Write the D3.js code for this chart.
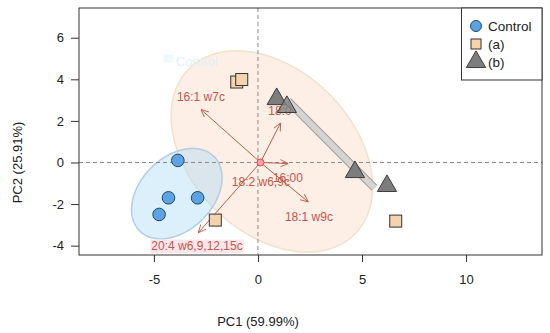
<!DOCTYPE html>
<html>
<head>
  <meta charset="utf-8">
  <title>PCA biplot</title>
  <script src="https://cdn.jsdelivr.net/npm/d3@7"></script>
  <style>
    body { margin: 0; background: #fff; }
    text { font-family: "Liberation Sans", Arial, sans-serif; }
  </style>
</head>
<body>
<div id="chart"></div>
<script>
// scores
const controlX = [-3.85, -4.3, -2.9, -4.75];
const controlY = [0.1, -1.7, -1.7, -2.5];
const aX = [-1.02, -0.78, -2.05, 6.62];
const aY = [3.87, 3.99, -2.77, -2.82];
const bX = [0.9, 1.39, 4.66, 6.2];
const bY = [3.05, 2.67, -0.46, -1.13];

// loadings (arrow tips and label spots)
const loadNames = ["16:1 w7c", "18:0", "16:00", "18:1 w9c", "20:4 w6,9,12,15c", "18:2 w6,9c"];
const loadX = [-2.74, 1.09, 1.46, 2.42, -2.87, null];
const loadY = [2.55, 1.91, -0.05, -1.9, -3.38, null];
const labX = [-2.74, 1.06, 1.44, 2.45, -2.93, 0.14];
const labY = [3.13, 2.5, -0.77, -2.6, -4.04, -0.96];
const origin = [0.12, 0];

// confidence ellipses: cx, cy, semi-major, semi-minor, angle (deg)
const ellControl = [-3.9, -1.5, 2.53, 1.75, 45];
const ellA = [0.67, 0.53, 5.63, 3.9, -45];

// the grey band
const bandX = [1.45, 5.6];
const bandY = [2.95, -1.22];

const xTicks = [-5, 0, 5, 10];
const yTicks = [-4, -2, 0, 2, 4, 6];

const W = 550, H = 333;
const L = 79, R = 542, T = 8, B = 255;

const x = d3.scaleLinear().domain([-8.6, 13.65]).range([L, R]);
const y = d3.scaleLinear().domain([-4.45, 7.43]).range([B, T]);

const svg = d3.select("#chart").append("svg").attr("width", W).attr("height", H);

const defs = svg.append("defs");
defs.append("clipPath").attr("id", "clip").append("rect")
  .attr("x", L).attr("y", T).attr("width", R - L).attr("height", B - T);
defs.append("marker").attr("id", "head")
  .attr("viewBox", "0 0 10 10").attr("refX", 10).attr("refY", 5)
  .attr("markerWidth", 8).attr("markerHeight", 8).attr("orient", "auto")
  .attr("markerUnits", "userSpaceOnUse")
  .append("path").attr("d", "M0,0.5 L10,5 L0,9.5")
  .attr("fill", "none").attr("stroke", "#b9604c").attr("stroke-width", 1.1);

const plot = svg.append("g").attr("clip-path", "url(#clip)");

function ellipsePts(e) {
  const [cx, cy, a, b, ang] = e;
  const t = ang * Math.PI / 180;
  return d3.range(0, 361, 4).map(d => {
    const u = d * Math.PI / 180;
    const px = a * Math.cos(u), py = b * Math.sin(u);
    return [cx + px * Math.cos(t) - py * Math.sin(t), cy + px * Math.sin(t) + py * Math.cos(t)];
  });
}
const line = d3.line().x(d => x(d[0])).y(d => y(d[1]));

plot.append("path").attr("d", line(ellipsePts(ellA)))
  .attr("fill", "#fdeee6")
  .attr("stroke", "#f1e2cc").attr("stroke-width", 1.5);
plot.append("path").attr("d", line(ellipsePts(ellControl)))
  .attr("fill", "#a9dcf6").attr("fill-opacity", 0.42)
  .attr("stroke", "#b2cde4").attr("stroke-width", 1.5);

// ghost legend text
plot.append("rect").attr("x", x(-4.3) - 5).attr("y", y(4.95) - 5).attr("width", 10).attr("height", 8)
  .attr("fill", "#edf9fd");
plot.append("text").attr("x", x(-3.95)).attr("y", y(4.88) + 5)
  .attr("font-size", 13).attr("fill", "#dcf4fb").text("Control");

// zero lines
plot.append("line").attr("x1", x(0)).attr("x2", x(0)).attr("y1", T).attr("y2", B)
  .attr("stroke", "#8a8a8a").attr("stroke-dasharray", "4,3");
plot.append("line").attr("x1", L).attr("x2", R).attr("y1", y(0)).attr("y2", y(0))
  .attr("stroke", "#8a8a8a").attr("stroke-dasharray", "4,3");

// grey band
plot.append("line").attr("x1", x(bandX[0])).attr("y1", y(bandY[0]))
  .attr("x2", x(bandX[1])).attr("y2", y(bandY[1]))
  .attr("stroke", "#a29e9a").attr("stroke-width", 8);
plot.append("line").attr("x1", x(bandX[0])).attr("y1", y(bandY[0]))
  .attr("x2", x(bandX[1])).attr("y2", y(bandY[1]))
  .attr("stroke", "#d6d3d0").attr("stroke-width", 6);

// loading arrows
loadNames.forEach((n, i) => {
  if (loadX[i] === null) return;
  plot.append("line")
    .attr("x1", x(origin[0])).attr("y1", y(origin[1]))
    .attr("x2", x(loadX[i])).attr("y2", y(loadY[i]))
    .attr("stroke", "#b9604c").attr("stroke-width", 1)
    .attr("marker-end", "url(#head)");
});
plot.append("circle").attr("cx", x(origin[0])).attr("cy", y(origin[1])).attr("r", 3.5)
  .attr("fill", "#f5a5a5").attr("stroke", "#e0484a").attr("stroke-width", 1);

// loading labels
loadNames.forEach((n, i) => {
  const t = plot.append("text").attr("x", x(labX[i])).attr("y", y(labY[i]) + 4)
    .attr("text-anchor", "middle").attr("font-size", 12)
    .attr("fill", "#c4574a").text(n);
  if (i === 4) {
    const bb = t.node().getBBox();
    plot.insert("rect", () => t.node())
      .attr("x", bb.x - 1).attr("y", bb.y).attr("width", bb.width + 2).attr("height", bb.height)
      .attr("fill", "#fce6ec");
  }
});

// points
const circ = controlX.map((v, i) => [v, controlY[i]]);
const sq = aX.map((v, i) => [v, aY[i]]);
const tri = bX.map((v, i) => [v, bY[i]]);

plot.selectAll(".sq").data(sq).enter().append("rect")
  .attr("x", d => x(d[0]) - 6).attr("y", d => y(d[1]) - 6)
  .attr("width", 12).attr("height", 12)
  .attr("fill", "#f5d3ad").attr("stroke", "#333").attr("stroke-width", 1);
plot.selectAll(".ci").data(circ).enter().append("circle")
  .attr("cx", d => x(d[0])).attr("cy", d => y(d[1])).attr("r", 6.3)
  .attr("fill", "#5da2e3").attr("stroke", "#1e4a66").attr("stroke-width", 1);
const triPath = d3.symbol().type(d3.symbolTriangle).size(160);
plot.selectAll(".tr").data(tri).enter().append("path")
  .attr("d", triPath)
  .attr("transform", d => `translate(${x(d[0])},${y(d[1])})`)
  .attr("fill", "#7d7d7d").attr("stroke", "#3c3c3c").attr("stroke-width", 1)
  .attr("fill-opacity", (d, i) => i === 1 ? 0.8 : 1);

// box
svg.append("rect").attr("x", L).attr("y", T).attr("width", R - L).attr("height", B - T)
  .attr("fill", "none").attr("stroke", "#333").attr("stroke-width", 1);

// axes
const xAxis = svg.append("g").attr("transform", `translate(0,${B})`)
  .call(d3.axisBottom(x).tickValues(xTicks).tickSize(7).tickPadding(13).tickFormat(d3.format("d")));
const yAxis = svg.append("g").attr("transform", `translate(${L},0)`)
  .call(d3.axisLeft(y).tickValues(yTicks).tickSize(8).tickPadding(7).tickFormat(d3.format("d")));
[xAxis, yAxis].forEach(g => {
  g.select(".domain").remove();
  g.selectAll("line").attr("stroke", "#333");
  g.selectAll("text").attr("font-size", 13).attr("fill", "#222")
    .attr("font-family", "Liberation Sans, Arial, sans-serif");
});
yAxis.selectAll("text").text(d => d < 0 ? "-" + Math.abs(d) : d);
xAxis.selectAll("text").text(d => d < 0 ? "-" + Math.abs(d) : d);

svg.append("text").attr("x", x(0)).attr("y", 326).attr("text-anchor", "middle")
  .attr("font-size", 13).attr("fill", "#222").text("PC1 (59.99%)");
svg.append("text").attr("transform", `translate(22,${y(0)}) rotate(-90)`)
  .attr("text-anchor", "middle").attr("font-size", 13).attr("fill", "#222").text("PC2 (25.91%)");

// legend
const legNames = ["Control", "(a)", "(b)"];
const lg = svg.append("g");
lg.append("rect").attr("x", 461.5).attr("y", T).attr("width", R - 461.5).attr("height", 72)
  .attr("fill", "#fff").attr("stroke", "#333").attr("stroke-width", 1);
legNames.forEach((n, i) => {
  const cy = 26 + i * 18;
  if (i === 0) lg.append("circle").attr("cx", 476).attr("cy", cy).attr("r", 5.5)
    .attr("fill", "#5da2e3").attr("stroke", "#1e4a66");
  if (i === 1) lg.append("rect").attr("x", 471).attr("y", cy - 5).attr("width", 10).attr("height", 10)
    .attr("fill", "#f5d3ad").attr("stroke", "#333");
  if (i === 2) lg.append("path").attr("d", triPath)
    .attr("transform", `translate(476,${cy})`).attr("fill", "#7d7d7d").attr("stroke", "#3c3c3c");
  lg.append("text").attr("x", 488).attr("y", cy + 5).attr("font-size", 13.5).attr("fill", "#222").text(n);
});
</script>
</body>
</html>
